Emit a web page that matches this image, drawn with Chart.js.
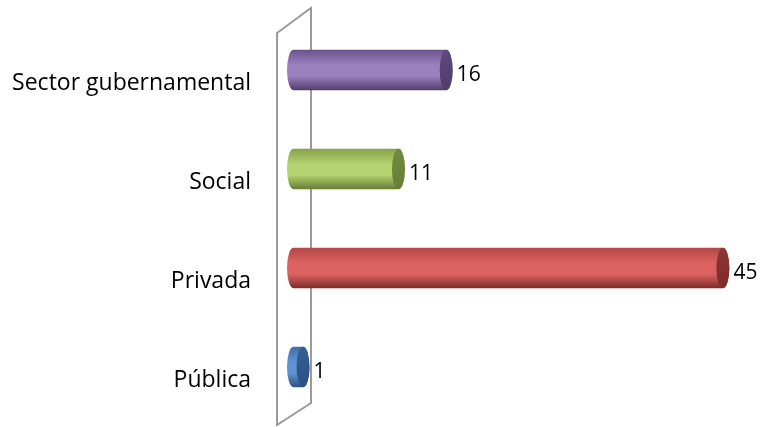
<!DOCTYPE html>
<html>
<head>
<meta charset="utf-8">
<script src="https://cdn.jsdelivr.net/npm/chart.js@4.4.1/dist/chart.umd.min.js"></script>
<style>
  html, body { margin: 0; padding: 0; background: #ffffff; }
  #wrap { width: 761px; height: 427px; position: relative; }
</style>
</head>
<body>
<div id="wrap"><canvas id="c"></canvas></div>
<script>
// Categories, top to bottom
const categories = ['Sector gubernamental', 'Social', 'Privada', 'Pública'];
// Values per category
const values = [16, 11, 45, 1];
// Cylinder palette: [top edge, highlight, bottom edge, end cap]
const palettes = [
  ['#6a5289', '#9b80c0', '#4f3d68', '#5e4a7c'],
  ['#86a24a', '#b3d270', '#667d35', '#718c3e'],
  ['#b44644', '#dc6361', '#7c2a28', '#8e3735'],
  ['#3f6ea8', '#5f93d2', '#2c5081', '#345f95']
];

const FONT = '"Open Sans", sans-serif';
const CAP_RX = 6.5;      // horizontal radius of the cylinder end ellipses
const BACK_DEPTH = 13;   // how far the cylinder reaches behind the zero plane

// Back wall of the 3D plot, drawn behind the bars
const wallPlugin = {
  id: 'wall',
  beforeDatasetsDraw(chart) {
    const { ctx, chartArea, scales } = chart;
    const z = scales.x.getPixelForValue(0);
    const xl = z - 23, xr = z + 11;
    ctx.save();
    ctx.strokeStyle = '#9a9a9a';
    ctx.lineWidth = 2;
    ctx.lineJoin = 'miter';
    ctx.beginPath();
    ctx.moveTo(xl, chartArea.top + 12.5);
    ctx.lineTo(xr, chartArea.top - 12.5);
    ctx.lineTo(xr, chartArea.bottom - 13.5);
    ctx.lineTo(xl, chartArea.bottom + 8.5);
    ctx.closePath();
    ctx.stroke();
    ctx.restore();
  }
};

// Draws each bar as a shaded cylinder plus its value label
const cylinderPlugin = {
  id: 'cylinders',
  afterDatasetsDraw(chart) {
    const { ctx, scales } = chart;
    const meta = chart.getDatasetMeta(0);
    const z = scales.x.getPixelForValue(0);
    meta.data.forEach((bar, i) => {
      const p = palettes[i];
      const { x, y, height } = bar.getProps(['x', 'y', 'height'], true);
      const ry = height / 2;
      const top = y - ry, bottom = y + ry;
      const x0 = z - BACK_DEPTH;
      const x1 = x;
      const lc = x0 + CAP_RX;
      const rc = Math.max(x1 - CAP_RX, lc);

      ctx.save();
      const g = ctx.createLinearGradient(0, top, 0, bottom);
      g.addColorStop(0, p[0]);
      g.addColorStop(0.38, p[1]);
      g.addColorStop(0.65, p[1]);
      g.addColorStop(1, p[2]);
      ctx.fillStyle = g;
      ctx.beginPath();
      ctx.moveTo(lc, top);
      ctx.lineTo(rc, top);
      ctx.ellipse(rc, y, CAP_RX, ry, 0, -Math.PI / 2, Math.PI / 2, false);
      ctx.lineTo(lc, bottom);
      ctx.ellipse(lc, y, CAP_RX, ry, 0, Math.PI / 2, Math.PI * 1.5, false);
      ctx.closePath();
      ctx.fill();

      // end cap
      const cg = ctx.createLinearGradient(rc - CAP_RX, top, rc + CAP_RX, bottom);
      cg.addColorStop(0, p[3]);
      cg.addColorStop(1, p[2]);
      ctx.fillStyle = cg;
      ctx.beginPath();
      ctx.ellipse(rc, y, CAP_RX, ry, 0, 0, Math.PI * 2);
      ctx.fill();

      // value label
      ctx.fillStyle = '#000000';
      ctx.font = '21px ' + FONT;
      ctx.textAlign = 'left';
      ctx.textBaseline = 'middle';
      ctx.fillText(String(values[i]), x1 + 4, y + 5);
      ctx.restore();
    });
  }
};

new Chart(document.getElementById('c'), {
  type: 'bar',
  data: {
    labels: categories,
    datasets: [{
      data: values,
      backgroundColor: 'rgba(0,0,0,0)',
      borderWidth: 0,
      categoryPercentage: 1,
      barPercentage: 0.41
    }]
  },
  options: {
    indexAxis: 'y',
    responsive: true,
    maintainAspectRatio: false,
    animation: false,
    events: [],
    layout: { padding: { top: 20.5, bottom: 10.5, left: 0, right: 3 } },
    plugins: { legend: { display: false }, tooltip: { enabled: false } },
    scales: {
      x: { display: false, min: 0, max: 48 },
      y: {
        grid: { display: false, drawTicks: false },
        border: { display: false },
        afterFit(scale) {
          scale.width = 300;
          scale.paddingTop = 0;
          scale.paddingBottom = 0;
        },
        ticks: {
          color: '#000000',
          padding: 49,
          labelOffset: 13,
          font: { family: FONT, size: 23 }
        }
      }
    }
  },
  plugins: [wallPlugin, cylinderPlugin]
});
</script>
</body>
</html>
